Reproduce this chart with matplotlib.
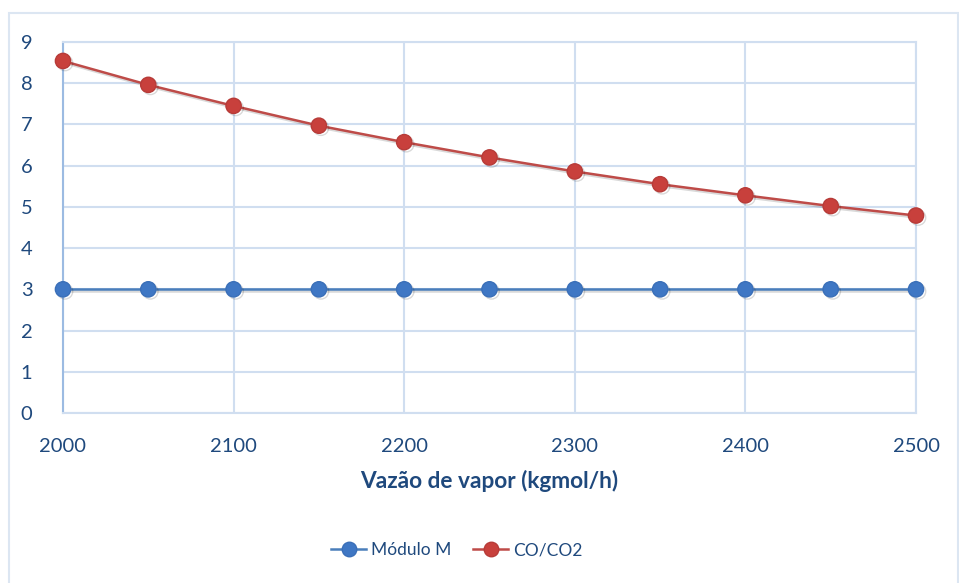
import matplotlib.pyplot as plt
from matplotlib.patches import Rectangle
from matplotlib import patheffects as pe

# data
vazao = [2000, 2050, 2100, 2150, 2200, 2250, 2300, 2350, 2400, 2450, 2500]
modulo_m = [3, 3, 3, 3, 3, 3, 3, 3, 3, 3, 3]
co_co2 = [8.54, 7.96, 7.45, 6.97, 6.57, 6.20, 5.86, 5.55, 5.28, 5.02, 4.79]
x_ticks = [2000, 2100, 2200, 2300, 2400, 2500]
y_ticks = [0, 1, 2, 3, 4, 5, 6, 7, 8, 9]

plt.rcParams['font.family'] = ['Lato', 'DejaVu Sans']

W, H = 959, 583
fig = plt.figure(figsize=(W / 100, H / 100), dpi=100)

text_col = '#1F497D'
grid_col = '#D0DEF0'
blue = '#4A7EBB'
red = '#BE4B48'

# chart frame
fig.patches.append(Rectangle((9 / W, -0.05), (958 - 9) / W, 1.05 - 13 / H,
                             transform=fig.transFigure, fill=False,
                             edgecolor='#DCE6F2', lw=1.5))

ax = fig.add_axes([63 / W, (H - 413) / H, (916 - 63) / W, (413 - 42) / H])

shadow = [pe.SimpleLineShadow(offset=(1.5, -1.5), shadow_color='#000000', alpha=0.15),
          pe.Normal()]

l1, = ax.plot(vazao, modulo_m, color=blue, lw=1.8, marker='o', markersize=11,
              markerfacecolor='#3F77C4', markeredgecolor='#3A6FB8', label='Módulo M',
              path_effects=shadow, zorder=3, clip_on=False)
l2, = ax.plot(vazao, co_co2, color=red, lw=1.8, marker='o', markersize=11,
              markerfacecolor='#C8403C', markeredgecolor='#B73B38', label='CO/CO2',
              path_effects=shadow, zorder=3, clip_on=False)

ax.set_xlim(2000, 2500)
ax.set_ylim(0, 9)
ax.set_xticks(x_ticks)
ax.set_yticks(y_ticks)
ax.grid(True, color=grid_col, lw=1.5)
ax.set_axisbelow(True)

for side in ['top', 'right', 'bottom']:
    ax.spines[side].set_color(grid_col)
    ax.spines[side].set_linewidth(1.5)
ax.spines['left'].set_color('#9CBBE2')
ax.spines['left'].set_linewidth(1.5)

ax.tick_params(axis='both', length=0, labelsize=14.5, labelcolor=text_col)
ax.tick_params(axis='y', pad=22)
ax.tick_params(axis='x', pad=18)

ax.set_xlabel('Vazão de vapor (kgmol/h)', fontsize=16.3, fontweight='bold',
              color=text_col, labelpad=11)

leg = fig.legend(loc='center', bbox_to_anchor=(457 / W, 1 - 550 / H), ncol=2,
                 frameon=False, fontsize=12.5, labelcolor=text_col,
                 handlelength=2.0, handletextpad=0.3, columnspacing=1.25,
                 markerscale=0.95)
for h in leg.legend_handles:
    h.set_path_effects([])

fig.savefig('out.png', dpi=100)
